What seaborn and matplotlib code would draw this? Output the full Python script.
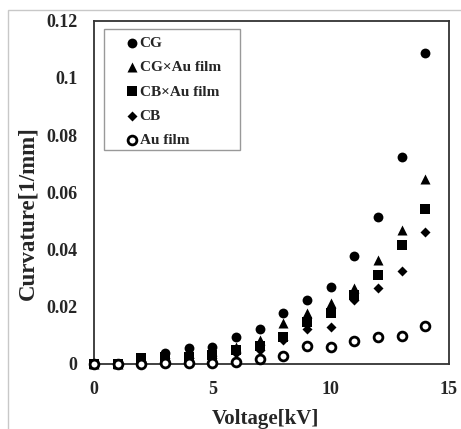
import matplotlib
matplotlib.use("Agg")
import matplotlib.pyplot as plt
import seaborn as sns
import pandas as pd
from matplotlib.patches import Rectangle

voltage = list(range(15))
cg = [0, 0, 0.0008, 0.004, 0.0057, 0.006, 0.0093, 0.0121, 0.0177, 0.0223, 0.0268, 0.0377, 0.0514, 0.0723, 0.1086]
cg_au = [0, 0, 0.001, 0.003, 0.004, 0.0045, 0.006, 0.0084, 0.0143, 0.0178, 0.0212, 0.0264, 0.0365, 0.0467, 0.0648]
cb_au = [0, 0, 0.002, 0.0025, 0.0025, 0.003, 0.005, 0.0063, 0.0095, 0.0148, 0.0179, 0.0241, 0.0310, 0.0415, 0.0540]
cb = [0, 0, 0.0005, 0.002, 0.002, 0.002, 0.004, 0.005, 0.0084, 0.0124, 0.0130, 0.0223, 0.0264, 0.0326, 0.0462]
au_film = [0, 0, 0, 0.0003, 0.0003, 0.0005, 0.0008, 0.0016, 0.0029, 0.0064, 0.0060, 0.0081, 0.0095, 0.0099, 0.0134]
series_names = ["CG", "CG×Au film", "CB×Au film", "CB", "Au film"]
series_values = [cg, cg_au, cb_au, cb, au_film]
x_ticks = [0, 5, 10, 15]
y_ticks = [0, 0.02, 0.04, 0.06, 0.08, 0.1, 0.12]
y_tick_labels = ["0", "0.02", "0.04", "0.06", "0.08", "0.1", "0.12"]

sns.set_theme(style="white")
plt.rcParams['font.family'] = ['Liberation Serif', 'DejaVu Serif']
plt.rcParams['font.weight'] = 'bold'

fig = plt.figure(figsize=(4.61, 4.29), dpi=100)
ax = fig.add_axes([94 / 461, 1 - 364 / 429, (449 - 94) / 461, (364 - 20.5) / 429])

# outer light frame
fig.add_artist(Rectangle((8 / 461, -0.1), 1.2, (1 - 10 / 429) + 0.1, transform=fig.transFigure,
                         fill=False, edgecolor="#c8c8c8", linewidth=1.0, zorder=0))

styles = {
    "CG": dict(marker="o", color="black", edgecolor="black", s=50, linewidth=0),
    "CG×Au film": dict(marker="^", color="black", edgecolor="black", s=52, linewidth=0),
    "CB×Au film": dict(marker="s", color="black", edgecolor="black", s=46, linewidth=0),
    "CB": dict(marker="D", color="black", edgecolor="black", s=26, linewidth=0),
    "Au film": dict(marker="o", color="white", edgecolor="black", s=40, linewidth=2.0),
}

for name, vals in zip(series_names, series_values):
    df = pd.DataFrame({"Voltage": voltage, "Curvature": vals})
    sns.scatterplot(data=df, x="Voltage", y="Curvature", ax=ax, label=name,
                    clip_on=False, zorder=3, **styles[name])

ax.set_xlim(0, 15)
ax.set_ylim(0, 0.12)
ax.set_xticks(x_ticks)
ax.set_xticklabels([str(t) for t in x_ticks], fontsize=13, fontweight='bold')
ax.set_yticks(y_ticks)
ax.set_yticklabels(y_tick_labels, fontsize=13, fontweight='bold')
ax.tick_params(axis='both', direction='in', length=5, width=1, color='#555555')
ax.tick_params(axis='x', pad=12)
ax.tick_params(axis='y', pad=12)

ax.set_xlabel("Voltage[kV]", fontsize=15, fontweight='bold', labelpad=8)
ax.xaxis.label.set_x(0.482)
ax.set_ylabel("Curvature[1/mm]", fontsize=16.5, fontweight='bold')
ax.yaxis.set_label_coords(-0.158, 0.438)

for sp in ax.spines.values():
    sp.set_color('#333333')
    sp.set_linewidth(1.3)

# legend frame box
ax.add_patch(Rectangle((0.0282, 0.623), 0.411 - 0.0282, 0.975 - 0.623, transform=ax.transAxes,
                       fill=True, facecolor='white', edgecolor='#999999', linewidth=1.0,
                       zorder=4, clip_on=False))

leg = ax.legend(loc='upper left', bbox_to_anchor=(0.0855, 0.953), borderaxespad=0,
                frameon=False, handletextpad=0.0, labelspacing=0.68, borderpad=0.0,
                handlelength=1.0, prop={'weight': 'bold', 'size': 11})
leg.set_zorder(5)

fig.savefig("out.png", dpi=100)
